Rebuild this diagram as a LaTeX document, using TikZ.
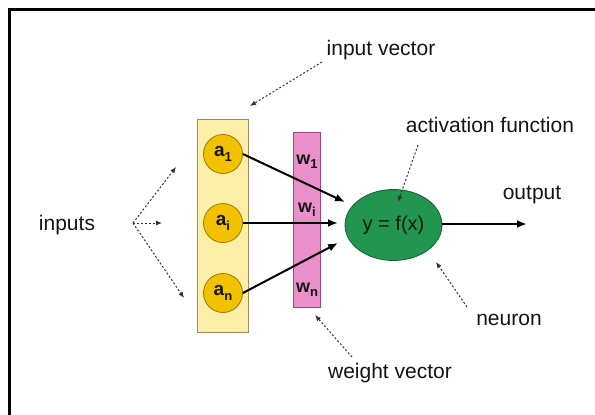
\documentclass[tikz,border=0pt]{standalone}
\usepackage{fontspec}
\setmainfont{Liberation Sans}
\usetikzlibrary{arrows.meta,shapes.geometric}

\definecolor{vecyellow}{HTML}{FCF0A8}
\definecolor{vecyellowline}{HTML}{9C8C5C}
\definecolor{unitgold}{HTML}{F2C200}
\definecolor{unitgoldline}{HTML}{9A7A00}
\definecolor{weightpink}{HTML}{E98FC9}
\definecolor{weightpinkline}{HTML}{9A4A80}
\definecolor{neurongreen}{HTML}{229650}
\definecolor{neurongreenline}{HTML}{135F30}
\definecolor{pointergray}{HTML}{333333}
\definecolor{inktext}{HTML}{151515}

% lowered index for a_1, w_n, ...
\newcommand\lowidx[1]{\raisebox{-0.45ex}{\fontsize{13}{13}\selectfont #1}}

\tikzset{
  caption/.style={inner sep=0pt, text=inktext, font=\fontsize{21}{24}\selectfont},
  vecbox/.style={draw=vecyellowline, fill=vecyellow, line width=0.8pt, inner sep=0pt},
  wbox/.style={draw=weightpinkline, fill=weightpink, line width=0.8pt, inner sep=0pt},
  unit/.style={circle, draw=unitgoldline, fill=unitgold, line width=0.8pt,
    minimum size=39pt, inner sep=0pt, text=inktext, font=\bfseries\fontsize{19}{20}\selectfont},
  wlabel/.style={inner sep=0pt, text=inktext, font=\bfseries\fontsize{18}{20}\selectfont},
  neuronshape/.style={ellipse, draw=neurongreenline, fill=neurongreen, line width=0.8pt,
    minimum width=97pt, minimum height=71pt, inner sep=0pt, text=inktext,
    font=\fontsize{20}{22}\selectfont},
  signal/.style={line width=2pt, -{Latex[length=10pt,width=8pt]}},
  pointer/.style={pointergray, line width=1pt, dash pattern=on 2pt off 2pt,
    -{Latex[length=6pt,width=5pt]}}
}

\begin{document}
\begin{tikzpicture}[x=1pt,y=-1pt]
\useasboundingbox (0,0) rectangle (595,415);
\fill[white] (0,0) rectangle (595,415);

% frame
\draw[line width=3pt] (9,415) -- (9,9) -- (595,9);

% input vector and its units
\node[vecbox, minimum width=51pt, minimum height=213pt] (invec) at (222.5,225.5) {};
\node[unit] (a1) at (223,154) {a\lowidx{1}};
\node[unit] (ai) at (223,223) {a\lowidx{i}};
\node[unit] (an) at (223,293) {a\lowidx{n}};

% weight vector
\node[wbox, minimum width=27pt, minimum height=175pt] (wvec) at (306.5,219.5) {};
\node[wlabel] (w1) at (307,162) {w\lowidx{1}};
\node[wlabel] (wi) at (307,210) {w\lowidx{i}};
\node[wlabel] (wn) at (307,290) {w\lowidx{n}};

% neuron
\node[neuronshape] (neuron) at (393.5,225) {y = f(x)};

% arrow ends in front of the neuron
\coordinate (t1) at (345,202);
\coordinate (ti) at (338,223);
\coordinate (tn) at (338,243);
\coordinate (out) at (527,224);

\draw[signal] (a1.east) -- (t1);
\draw[signal] (ai.east) -- (ti);
\draw[signal] (an.east) -- (tn);
\draw[signal] (neuron.east |- out) -- (out);

% captions
\node[caption] (inputs) at (67,225) {inputs};
\node[caption] (ivlabel) at (381,50) {input vector};
\node[caption] (aflabel) at (490,125) {activation function};
\node[caption] (outlabel) at (532,195) {output};
\node[caption] (nlabel) at (509,320) {neuron};
\node[caption] (wvlabel) at (390,373) {weight vector};

% dotted pointers
\coordinate (fan) at (133,223);
\coordinate (fanup) at (176,167);
\coordinate (fanmid) at (162,223);
\coordinate (fandown) at (184,298);
\draw[pointer] (fan) -- (fanup);
\draw[pointer] (fan) -- (fanmid);
\draw[pointer] (fan) -- (fandown);

\coordinate (ivfrom) at (322,62);
\coordinate (ivto) at (250,106);
\draw[pointer] (ivfrom) -- (ivto);

\coordinate (affrom) at (418,145);
\coordinate (afto) at (398,202);
\draw[pointer] (affrom) -- (afto);

\coordinate (nfrom) at (467,307);
\coordinate (nto) at (436,262);
\draw[pointer] (nfrom) -- (nto);

\coordinate (wvfrom) at (352,357);
\coordinate (wvto) at (315,315);
\draw[pointer] (wvfrom) -- (wvto);
\end{tikzpicture}
\end{document}
